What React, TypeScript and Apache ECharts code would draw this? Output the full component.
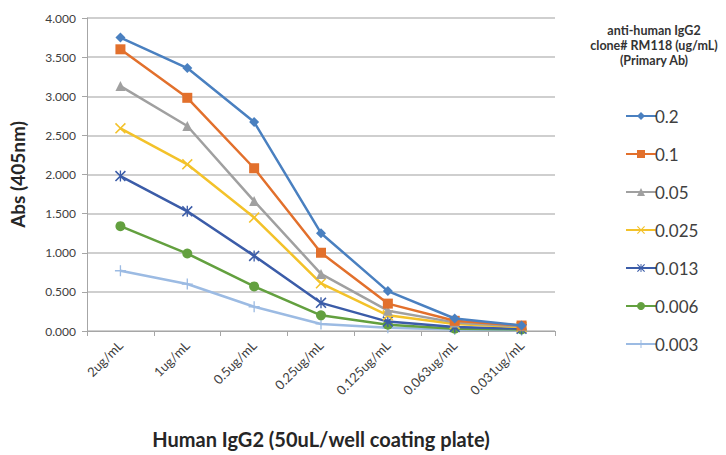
import React, { useEffect, useRef } from "react";
import * as echarts from "echarts";

const categories = ["2ug/mL", "1ug/mL", "0.5ug/mL", "0.25ug/mL", "0.125ug/mL", "0.063ug/mL", "0.031ug/mL"];
const seriesNames = ["0.2", "0.1", "0.05", "0.025", "0.013", "0.006", "0.003"];
const s02 = [3.75, 3.36, 2.67, 1.25, 0.51, 0.16, 0.07];
const s01 = [3.6, 2.98, 2.08, 1.0, 0.35, 0.13, 0.07];
const s005 = [3.13, 2.62, 1.66, 0.73, 0.26, 0.11, 0.06];
const s0025 = [2.59, 2.13, 1.45, 0.61, 0.2, 0.09, 0.05];
const s0013 = [1.98, 1.53, 0.96, 0.36, 0.12, 0.05, 0.03];
const s0006 = [1.34, 0.99, 0.57, 0.2, 0.08, 0.03, 0.02];
const s0003 = [0.77, 0.6, 0.31, 0.09, 0.04, 0.02, 0.01];
const yTicks = [0, 0.5, 1, 1.5, 2, 2.5, 3, 3.5, 4];

const colors = ["#4a80c0", "#e2702c", "#a0a0a0", "#f3c22a", "#3b5ca8", "#63a03f", "#9cbbe3"];
const X_SYM = "path://M1,0L5,4L9,0L10,1L6,5L10,9L9,10L5,6L1,10L0,9L4,5L0,1Z";
const STAR_SYM = "path://M1,0L5,4L9,0L10,1L6,5L10,9L9,10L5,6L1,10L0,9L4,5L0,1Z M4.4,0H5.6V10H4.4Z";
const PLUS_SYM = "path://M4.4,0H5.6V4.4H10V5.6H5.6V10H4.4V5.6H0V4.4H4.4Z";
const symbols = ["diamond", "rect", "triangle", X_SYM, STAR_SYM, "circle", PLUS_SYM];
const symbolSizes = [10, 10, 10, 11, 11, 10, 11];
const values = [s02, s01, s005, s0025, s0013, s0006, s0003];

export default function App() {
  const ref = useRef<HTMLDivElement>(null);
  useEffect(() => {
    if (!ref.current) return;
    const chart = echarts.init(ref.current, undefined, { renderer: "svg" });
    const font = "Lato, 'Open Sans', sans-serif";
    chart.setOption({
      animation: false,
      backgroundColor: "#ffffff",
      textStyle: { fontFamily: font },
      grid: { left: 83, right: 171, top: 18, bottom: 124 },
      graphic: [
        {
          type: "text",
          x: 654,
          y: 23,
          style: {
            text: "anti-human IgG2\nclone# RM118 (ug/mL)\n(Primary Ab)",
            fontFamily: font,
            fontSize: 12.5,
            fontWeight: "bold",
            lineHeight: 15,
            fill: "#333333",
            align: "center",
          },
        },
      ],
      legend: {
        orient: "vertical",
        left: 620,
        top: 102,
        itemWidth: 30,
        itemHeight: 10,
        itemGap: 20,
        data: seriesNames,
        textStyle: { fontFamily: font, fontSize: 17, color: "#404040", lineHeight: 18, padding: [0, 0, 0, -6] },
      },
      xAxis: {
        type: "category",
        data: categories,
        boundaryGap: true,
        axisLine: { lineStyle: { color: "#a6a6a6", width: 1 } },
        axisTick: { show: true, alignWithLabel: false, length: 5, lineStyle: { color: "#a6a6a6" } },
        axisLabel: { rotate: 45, interval: 0, margin: 12, fontSize: 13, color: "#404040", fontFamily: font },
        name: "Human IgG2 (50uL/well coating plate)",
        nameLocation: "middle",
        nameGap: 98,
        nameTextStyle: { fontSize: 20, fontWeight: "bold", color: "#262626", fontFamily: font },
      },
      yAxis: {
        type: "value",
        min: yTicks[0],
        max: yTicks[yTicks.length - 1],
        interval: 0.5,
        axisLine: { show: true, lineStyle: { color: "#a6a6a6", width: 1 } },
        axisTick: { show: true, length: 5, inside: false, lineStyle: { color: "#a6a6a6" } },
        splitLine: { lineStyle: { color: "#bfbfbf", width: 1.5 } },
        axisLabel: {
          fontSize: 12,
          color: "#404040",
          margin: 11,
          fontFamily: font,
          formatter: (v: number) => v.toFixed(3),
        },
        name: "Abs (405nm)",
        nameLocation: "middle",
        nameGap: 60,
        nameTextStyle: { fontSize: 19, fontWeight: "bold", color: "#262626", fontFamily: font },
      },
      series: values.map((d, i) => ({
        name: seriesNames[i],
        type: "line",
        data: d,
        symbol: symbols[i],
        symbolSize: symbolSizes[i],
        showAllSymbol: true,
        lineStyle: { color: colors[i], width: 2.5 },
        itemStyle: { color: colors[i] },
        z: 10 - i,
      })),
    });
    return () => chart.dispose();
  }, []);
  return <div ref={ref} style={{ position: "absolute", left: 0, top: 0, width: 726, height: 455 }} />;
}
